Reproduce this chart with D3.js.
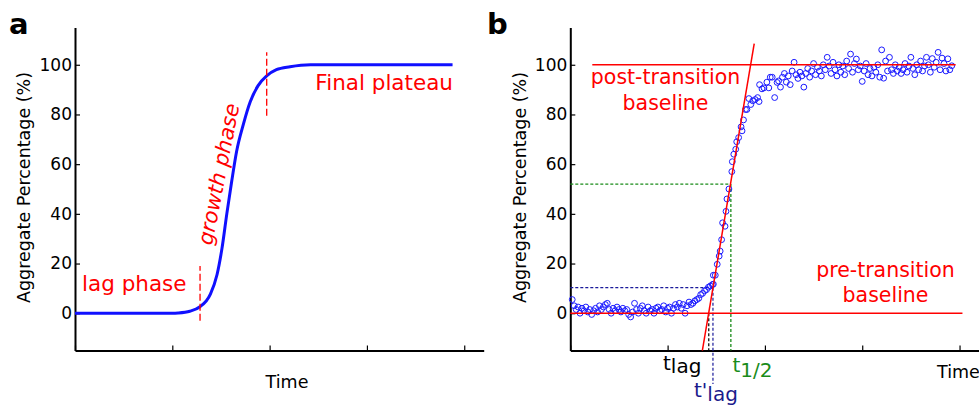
<!DOCTYPE html>
<html>
<head>
<meta charset="utf-8">
<script src="https://cdn.jsdelivr.net/npm/d3@7"></script>
<style>
  html, body { margin: 0; padding: 0; background: #fff; }
  svg { display: block; font-family: "DejaVu Sans", sans-serif; }
</style>
</head>
<body>
<svg id="chart" width="979" height="406"></svg>
<script>
// ---------------- DATA ----------------
const yTicks = [0, 20, 40, 60, 80, 100];
const xTicks = [0, 1, 2, 3, 4];
const yDomain = [-15, 115];
const xDomain = [0, 4.2];

// Panel a: idealised sigmoid [time, percent]
const curveTime = [0, 0.5, 1.0, 1.06, 1.18, 1.28, 1.39, 1.46, 1.51, 1.56, 1.61, 1.66, 1.73, 1.80, 1.88, 1.97, 2.07, 2.21, 2.42, 3.0, 3.88];
const curveValue = [0, 0, 0, 0.1, 0.8, 2.5, 7.6, 15.6, 26, 40, 53, 65, 76, 85, 91.5, 95.5, 98, 99.2, 100, 100, 100];
const phaseMarkTime = [1.285, 1.97];
const phaseMarkLow = [-3, 79.5];
const phaseMarkHigh = [19, 105];

// Panel b: noisy measurements [time, percent]
const measured = [
 [0.02,5.5],[0.04,3.0],[0.06,1.5],[0.08,2.5],[0.10,0.0],[0.12,2.0],[0.14,1.0],[0.16,2.5],[0.18,0.5],[0.20,1.5],
 [0.22,-0.5],[0.24,1.0],[0.26,2.0],[0.28,0.5],[0.30,3.0],[0.32,1.5],[0.34,2.5],[0.36,3.5],[0.38,4.0],[0.40,1.5],
 [0.42,0.0],[0.44,2.0],[0.46,1.0],[0.48,2.5],[0.50,1.5],[0.52,0.5],[0.54,2.0],[0.56,1.0],[0.58,1.5],[0.60,-0.5],
 [0.62,-1.5],[0.64,0.5],[0.66,4.0],[0.68,1.5],[0.70,0.0],[0.72,2.0],[0.74,3.0],[0.76,1.0],[0.78,0.0],[0.80,2.5],
 [0.82,1.0],[0.84,1.5],[0.86,0.0],[0.88,2.0],[0.90,2.5],[0.92,1.0],[0.94,1.5],[0.96,3.0],[0.98,0.5],[1.00,2.0],
 [1.02,2.5],[1.04,0.0],[1.06,2.0],[1.08,3.5],[1.10,2.5],[1.12,4.0],[1.14,2.0],[1.16,3.5],[1.18,0.0],[1.20,3.0],
 [1.22,4.5],[1.24,3.5],[1.26,4.0],[1.28,5.0],[1.30,5.5],[1.32,6.0],[1.34,7.5],[1.36,8.0],[1.38,9.0],[1.40,9.5],
 [1.42,10.5],[1.44,11.0],[1.46,11.5],[1.47,11.7],[1.47,15.3],[1.49,15.3],[1.51,19.7],[1.53,23],[1.54,25],[1.555,29.6],
 [1.565,36.4],[1.59,35],[1.60,41],[1.61,46],[1.63,50],[1.66,57],[1.665,61],[1.68,64],[1.70,66],[1.71,69],
 [1.73,70.7],[1.755,75],[1.765,73.4],[1.78,77.8],[1.80,82],[1.815,82],[1.835,86.4],[1.855,84],[1.875,85.5],[1.90,86],
 [1.925,86.8],[1.94,85.2],[1.945,92],[1.97,90.3],[1.99,90.7],[2.02,93],[2.04,90.7],[2.055,95],[2.075,95],[2.10,86.8],
 [2.125,92.9],[2.14,93.5],[2.16,91.0],[2.18,95.0],[2.20,96.5],[2.22,93.0],[2.24,95.5],[2.26,92.0],[2.28,97.5],[2.30,101.0],
 [2.32,96.0],[2.34,94.5],[2.36,97.0],[2.38,95.5],[2.40,91.0],[2.42,96.5],[2.44,98.5],[2.46,95.0],[2.48,97.5],[2.50,100.5],
 [2.52,96.0],[2.54,99.0],[2.56,97.5],[2.58,95.5],[2.60,100.0],[2.62,98.0],[2.64,103.0],[2.66,99.5],[2.68,96.5],[2.70,101.0],
 [2.72,98.0],[2.74,95.5],[2.76,100.0],[2.78,97.0],[2.80,99.5],[2.82,96.0],[2.84,101.5],[2.86,98.5],[2.88,104.3],[2.90,97.0],
 [2.92,100.5],[2.94,102.3],[2.96,98.0],[2.98,99.5],[3.00,93.3],[3.02,97.5],[3.04,100.5],[3.06,96.0],[3.08,98.5],[3.10,95.5],
 [3.12,99.0],[3.14,97.0],[3.16,100.0],[3.18,95.0],[3.20,106.0],[3.22,94.6],[3.24,101.5],[3.26,97.5],[3.28,103.0],[3.30,98.0],
 [3.32,96.5],[3.34,100.0],[3.36,97.5],[3.38,99.0],[3.40,96.5],[3.42,98.0],[3.44,100.5],[3.46,97.0],[3.48,99.5],[3.50,103.0],
 [3.52,98.5],[3.54,96.0],[3.56,100.0],[3.58,98.0],[3.60,101.5],[3.62,97.5],[3.64,99.5],[3.66,103.0],[3.68,100.0],[3.70,97.0],
 [3.72,102.5],[3.74,99.0],[3.76,101.0],[3.78,105.0],[3.80,98.0],[3.82,102.7],[3.84,100.5],[3.86,97.5],[3.88,102.4],[3.90,98.0],
 [3.92,99.6]
];
// fitted guide lines [t0, v0, t1, v1]
const postBaseline = [0.226, 100, 3.96, 100];
const preBaseline = [0, 0, 4.03, 0];
const tangentLine = [1.357, -15, 1.89, 108.5];
const halfLevel = 52;      // % at t1/2
const halfTime = 1.65;
const lagLevel = 10.3;     // % at t'lag
const lagPrimeTime = 1.466;
const lagTime = 1.423;

// ---------------- DRAW ----------------
const svg = d3.select("#chart");
const y = d3.scaleLinear().domain(yDomain).range([350.5, 27.5]);
const xa = d3.scaleLinear().domain(xDomain).range([75, 483.7]);
const xb = d3.scaleLinear().domain(xDomain).range([570.3, 979]);

function drawAxes(g, x) {
  const ya = g.append("g").attr("transform", `translate(${x(0)},0)`)
    .call(d3.axisLeft(y).tickValues(yTicks).tickSizeInner(-5).tickSizeOuter(0).tickPadding(3));
  const xaG = g.append("g").attr("transform", `translate(0,${y(yDomain[0])})`)
    .call(d3.axisBottom(x).tickValues(xTicks).tickSizeInner(-5).tickSizeOuter(0).tickFormat(""));
  [ya, xaG].forEach(a => {
    a.select(".domain").attr("stroke", "#000").attr("stroke-width", 2);
    a.selectAll(".tick line").attr("stroke", "#000").attr("stroke-width", 1.2);
    a.selectAll(".tick text").attr("font-size", 17).attr("font-family", "DejaVu Sans").attr("fill", "#000");
  });
}

// ---- panel a ----
const ga = svg.append("g");
drawAxes(ga, xa);
const curveData = curveTime.map((t, i) => [t, curveValue[i]]);
ga.append("path").datum(curveData)
  .attr("fill", "none").attr("stroke", "#1010ff").attr("stroke-width", 3)
  .attr("d", d3.line().x(d => xa(d[0])).y(d => y(d[1])).curve(d3.curveMonotoneX));
phaseMarkTime.forEach((t, i) => {
  ga.append("line").attr("x1", xa(t)).attr("x2", xa(t))
    .attr("y1", y(phaseMarkLow[i])).attr("y2", y(phaseMarkHigh[i]))
    .attr("stroke", "#ff0000").attr("stroke-width", 1.3).attr("stroke-dasharray", "7,3");
});
ga.append("text").attr("x", 82).attr("y", 291).attr("fill", "#ff0000").attr("font-size", 21.5).text("lag phase");
ga.append("text").attr("x", 453).attr("y", 90).attr("fill", "#ff0000").attr("font-size", 21.5)
  .attr("text-anchor", "end").text("Final plateau");
ga.append("text").attr("transform", "translate(212,246) rotate(-79)").attr("fill", "#ff0000")
  .attr("font-size", 21).attr("font-style", "italic").text("growth phase");
ga.append("text").attr("transform", "translate(30,187.5) rotate(-90)").attr("text-anchor", "middle")
  .attr("font-size", 17.5).text("Aggregate Percentage (%)");
ga.append("text").attr("x", 287).attr("y", 388).attr("text-anchor", "middle").attr("font-size", 17.5).text("Time");
ga.append("text").attr("x", 9).attr("y", 34).attr("font-size", 29).attr("font-weight", "bold").text("a");

// ---- panel b ----
const gb = svg.append("g");
drawAxes(gb, xb);
function seg(g, s, color, width, dash) {
  const l = g.append("line").attr("x1", xb(s[0])).attr("y1", y(s[1])).attr("x2", xb(s[2])).attr("y2", y(s[3]))
    .attr("stroke", color).attr("stroke-width", width);
  if (dash) l.attr("stroke-dasharray", dash);
  return l;
}
// dashed guides
seg(gb, [0, halfLevel, halfTime, halfLevel], "#1a8c1a", 1.3, "3,2");
seg(gb, [halfTime, halfLevel, halfTime, yDomain[0]], "#1a8c1a", 1.3, "3,2");
seg(gb, [0, lagLevel, lagPrimeTime, lagLevel], "#1a1a9a", 1.2, "3,2");
seg(gb, [lagPrimeTime, lagLevel, lagPrimeTime, -28.5], "#1a1a9a", 1.2, "3,2");
seg(gb, [lagTime, 0, lagTime, yDomain[0]], "#000", 1.2, "3,2");
// points
gb.append("g").selectAll("circle").data(measured).join("circle")
  .attr("cx", d => xb(d[0])).attr("cy", d => y(d[1])).attr("r", 2.9)
  .attr("fill", "none").attr("stroke", "#1a1aff").attr("stroke-width", 1);
// fitted lines
seg(gb, postBaseline, "#ff0000", 1.5);
seg(gb, preBaseline, "#ff0000", 1.5);
seg(gb, tangentLine, "#ff0000", 1.5);

const redB = [["post-transition", 665.5, 84], ["baseline", 665.5, 110], ["pre-transition", 885.5, 277], ["baseline", 885.5, 302]];
redB.forEach(r => gb.append("text").attr("x", r[1]).attr("y", r[2]).attr("text-anchor", "middle")
  .attr("fill", "#ff0000").attr("font-size", 20.5).text(r[0]));

function subLabel(x, yy, main, sub, color, size, shift) {
  const t = gb.append("text").attr("x", x).attr("y", yy).attr("fill", color).attr("font-size", size);
  t.append("tspan").text(main);
  t.append("tspan").attr("dy", shift).text(sub);
}
subLabel(663, 370, "t", "lag", "#000", 20, 3);
subLabel(694, 397, "t'", "lag", "#1a1a8c", 20, 4);
subLabel(732.5, 372, "t", "1/2", "#1a8c1a", 20, 5);

gb.append("text").attr("transform", "translate(526,187.5) rotate(-90)").attr("text-anchor", "middle")
  .attr("font-size", 17.5).text("Aggregate Percentage (%)");
gb.append("text").attr("x", 937).attr("y", 378).attr("font-size", 17.5).text("Time");
gb.append("text").attr("x", 487).attr("y", 34).attr("font-size", 29).attr("font-weight", "bold").text("b");
</script>
</body>
</html>
